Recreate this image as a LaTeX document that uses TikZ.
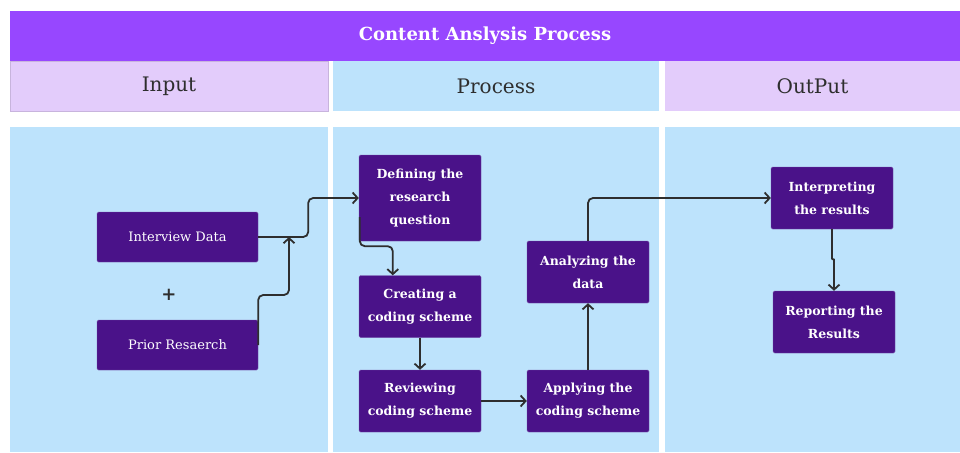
\documentclass[tikz,border=0pt]{standalone}
\usepackage{fontspec}
\setmainfont{DejaVu Serif}
\usetikzlibrary{calc,arrows.meta}
\definecolor{titlepurple}{HTML}{9747FF}
\definecolor{lanelav}{HTML}{E3CCFB}
\definecolor{laneblue}{HTML}{BDE3FC}
\definecolor{boxpurple}{HTML}{4A1289}
\definecolor{inkgray}{HTML}{2E2E2E}
\tikzset{
  lanehead/.style={fill=#1, minimum height=50pt, inner sep=0pt, text=inkgray, font=\fontsize{20}{22}\selectfont},
  inbox/.style={fill=boxpurple, draw=boxpurple!75!white, rounded corners=1.5pt, minimum width=161pt, minimum height=50pt, inner sep=0pt, text=white, font=\fontsize{13}{15}\selectfont},
  procbox/.style={fill=boxpurple, draw=boxpurple!75!white, rounded corners=1.5pt, minimum width=122pt, minimum height=62pt, inner sep=0pt, align=center, text=white, font=\bfseries\fontsize{12.5}{23}\selectfont},
  flow/.style={-{Straight Barb[length=5pt,width=11pt]}, line width=1.8pt, draw=inkgray, rounded corners=5pt},
}
\begin{document}
\begin{tikzpicture}[x=1pt,y=-1pt]
\useasboundingbox (0,0) rectangle (960,452);
\fill[white] (0,0) rectangle (960,452);

\node[fill=titlepurple, minimum width=950pt, minimum height=50pt, inner sep=0pt, text=white, font=\bfseries\fontsize{18}{20}\selectfont] (title) at (485,36) {Content Anslysis Process};
\node[lanehead=lanelav, draw=lanelav!80!black!60!lanelav, minimum width=318pt] (hin) at (169,86) {Input};
\node[lanehead=laneblue, minimum width=326pt] (hpr) at (496,86) {Process};
\node[lanehead=lanelav, minimum width=295pt] (hout) at (812.5,86) {OutPut};

\fill[laneblue] (10,127) rectangle (328,452);
\fill[laneblue] (333,127) rectangle (659,452);
\fill[laneblue] (665,127) rectangle (960,452);

\node[inbox] (id) at (177.5,237) {Interview Data};
\node[inbox] (pr) at (177.5,345) {Prior Resaerch};
\node[text=inkgray, font=\bfseries\fontsize{18}{18}\selectfont] (plus) at (169,295) {+};
\coordinate (join) at (289,237);

\node[procbox, minimum height=86pt] (def) at (420,198) {Defining the\\research\\question};
\node[procbox] (cr) at (420,306.5) {Creating a\\coding scheme};
\node[procbox] (rv) at (420,401) {Reviewing\\coding scheme};
\node[procbox] (ap) at (588,401) {Applying the\\coding scheme};
\node[procbox] (an) at (588,272) {Analyzing the\\data};
\node[procbox] (int) at (832,198) {Interpreting\\the results};
\node[procbox] (rep) at (834,322) {Reporting the\\Results};

\draw[flow] (id.east) -- ++(50,0) |- (def.west);
\draw[flow] (pr.east) -- ++(0,-50) -| (join);
\draw[flow] ($(def.south west)+(1,-24)$) -- ++(0,29) -| ($(cr.north west)+(34,0)$);
\draw[flow] (cr.south) -- (rv.north);
\draw[flow] (rv.east) -- (ap.west);
\draw[flow] (ap.north) -- (an.south);
\draw[flow] (an.north) |- (int.west);
\draw[flow, rounded corners=0.5pt] (int.south) -- ++(0,30) -| (rep.north);
\end{tikzpicture}
\end{document}
